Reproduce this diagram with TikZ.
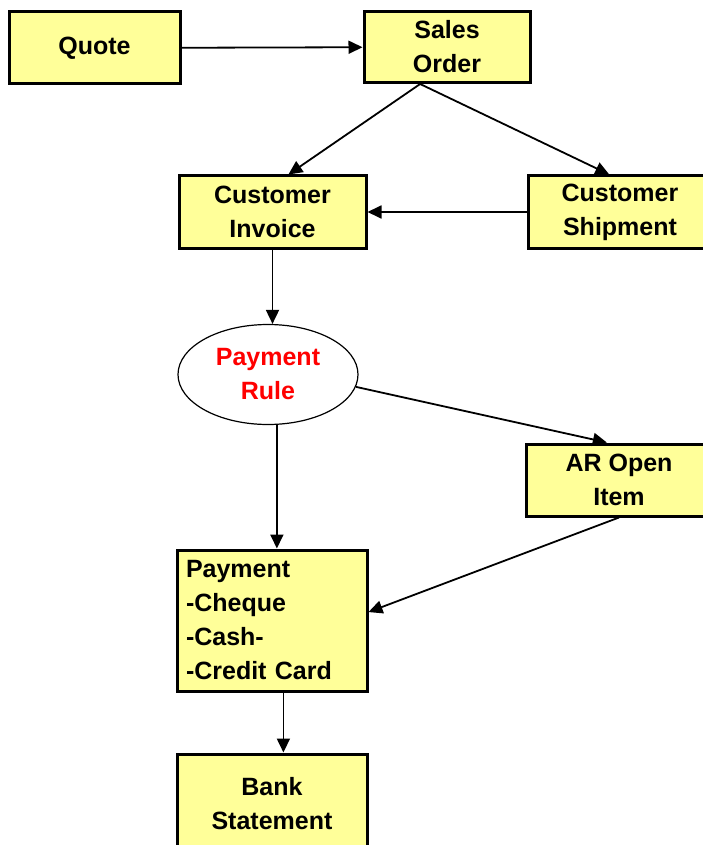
\documentclass[tikz,border=0pt]{standalone}
\usepackage{fontspec}
\setmainfont{Liberation Sans}
\usetikzlibrary{arrows.meta,shapes.geometric}

\definecolor{boxyellow}{HTML}{FFFF99}

\begin{document}
\begin{tikzpicture}[x=1pt, y=-1pt,
    box/.style={draw, line width=3pt, fill=boxyellow, align=center,
      font=\bfseries\fontsize{25}{34}\selectfont, inner sep=0pt},
    oval/.style={ellipse, draw, line width=1.2pt, fill=white, align=center, inner sep=0pt,
      text=red, font=\bfseries\fontsize{25}{34}\selectfont,
      minimum width=180pt, minimum height=100pt},
    arr/.style={line width=1.8pt, -{Triangle[length=14pt,width=13pt]}}]
    \useasboundingbox (0,0) rectangle (702,845);
    \node[box, minimum width=171pt, minimum height=72pt] (quote) at (94.5,48) {Quote};
    \node[box, minimum width=166pt, minimum height=71pt] (so) at (447,47) {Sales\\Order};
    \node[box, minimum width=187pt, minimum height=72pt] (inv) at (272.5,212) {Customer\\Invoice};
    \node[box, minimum width=184pt, minimum height=72pt] (ship) at (620,212) {Customer\\Shipment};
    \node[oval] (rule) at (268,374.5) {Payment\\Rule};
    \node[box, minimum width=186pt, minimum height=72pt] (ar) at (619,480) {AR Open\\Item};
    \node[box, minimum width=190pt, minimum height=141pt, align=left,
      text width=172pt] (pay) at (272,620.5) {Payment\\-Cheque\\-Cash-\\-Credit Card};
    \node[box, minimum width=190pt, minimum height=100pt] (bank) at (272,804) {Bank\\Statement};
    \draw[arr] (quote) -- (so);
    \draw[arr] (so.234) -- (inv.67);
    \draw[arr] (so.234) -- (ship.106);
    \draw[arr] (ship) -- (inv);
    \draw[arr] (inv.south) -- (inv.south |- rule.north);
    \draw[arr] (rule.-8) -- (ar.108);
    \draw[arr] (rule.-80) -- (rule.-80 |- pay.north);
    \draw[arr] (ar.south) -- (pay.5);
    \draw[arr] (pay.-81) -- (pay.-81 |- bank.north);
  \end{tikzpicture}
\end{document}
